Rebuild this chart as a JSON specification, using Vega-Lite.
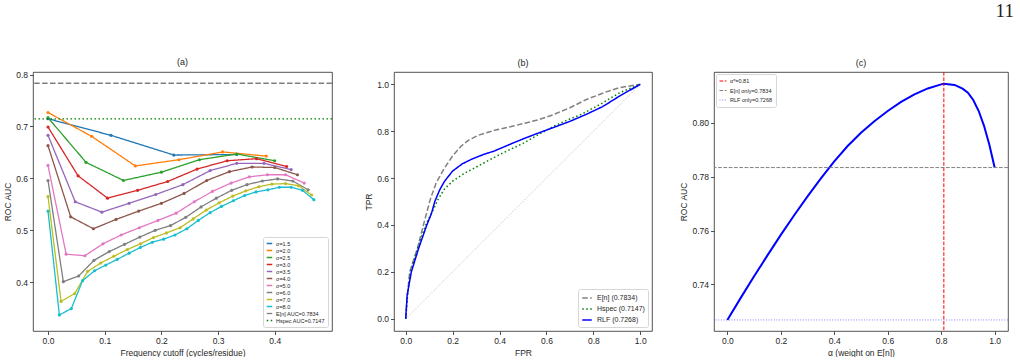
{
  "$schema": "https://vega.github.io/schema/vega-lite/v6.json",
  "background": "white",
  "padding": {"left": 3, "top": 2, "right": 0, "bottom": 0},
  "title": {"text": "11", "anchor": "end", "font": "Liberation Serif", "fontSize": 19, "fontWeight": "normal", "color": "#222", "offset": 36, "dx": 5, "frame": "bounds"},
  "bounds": "flush",
  "spacing": 62,
  "config": {
    "font": "Liberation Sans",
    "view": {"stroke": "#262626", "strokeWidth": 0.8},
    "axis": {"domain": false, "grid": false, "tickColor": "#262626", "tickSize": 3.5, "tickWidth": 0.8, "labelFontSize": 8.5, "labelColor": "#262626", "titleFontSize": 8.5, "titleFontWeight": "normal", "titleColor": "#262626", "labelPadding": 2, "titlePadding": 3, "labelFlush": false},
    "title": {"fontSize": 9, "fontWeight": "normal", "offset": 4, "color": "#262626"},
    "legend": {"title": null, "symbolType": "stroke", "fillColor": "white", "strokeColor": "#d6d6d6", "cornerRadius": 2, "labelColor": "#262626"}
  },
  "resolve": {"scale": {"color": "independent", "strokeDash": "independent", "x": "independent", "y": "independent"}, "legend": {"color": "independent", "strokeDash": "independent"}},
  "hconcat": [
    {
      "width": 299, "height": 259,
      "title": "(a)",
      "layer": [
        {
          "data": {"values": [
            {"s":"σ=1.5","f":0,"auc":0.715},{"s":"σ=1.5","f":0.111,"auc":0.683},{"s":"σ=1.5","f":0.222,"auc":0.645},{"s":"σ=1.5","f":0.333,"auc":0.646},
            {"s":"σ=2.0","f":0,"auc":0.727},{"s":"σ=2.0","f":0.077,"auc":0.681},{"s":"σ=2.0","f":0.154,"auc":0.624},{"s":"σ=2.0","f":0.231,"auc":0.636},{"s":"σ=2.0","f":0.308,"auc":0.651},{"s":"σ=2.0","f":0.385,"auc":0.643},
            {"s":"σ=2.5","f":0,"auc":0.717},{"s":"σ=2.5","f":0.067,"auc":0.631},{"s":"σ=2.5","f":0.133,"auc":0.596},{"s":"σ=2.5","f":0.2,"auc":0.612},{"s":"σ=2.5","f":0.267,"auc":0.636},{"s":"σ=2.5","f":0.333,"auc":0.647},{"s":"σ=2.5","f":0.4,"auc":0.634},
            {"s":"σ=3.0","f":0,"auc":0.699},{"s":"σ=3.0","f":0.053,"auc":0.605},{"s":"σ=3.0","f":0.105,"auc":0.562},{"s":"σ=3.0","f":0.158,"auc":0.577},{"s":"σ=3.0","f":0.211,"auc":0.594},{"s":"σ=3.0","f":0.263,"auc":0.618},{"s":"σ=3.0","f":0.316,"auc":0.634},{"s":"σ=3.0","f":0.368,"auc":0.638},{"s":"σ=3.0","f":0.421,"auc":0.623},
            {"s":"σ=3.5","f":0,"auc":0.683},{"s":"σ=3.5","f":0.048,"auc":0.555},{"s":"σ=3.5","f":0.095,"auc":0.535},{"s":"σ=3.5","f":0.143,"auc":0.552},{"s":"σ=3.5","f":0.19,"auc":0.569},{"s":"σ=3.5","f":0.238,"auc":0.588},{"s":"σ=3.5","f":0.286,"auc":0.615},{"s":"σ=3.5","f":0.333,"auc":0.629},{"s":"σ=3.5","f":0.381,"auc":0.629},{"s":"σ=3.5","f":0.429,"auc":0.617},
            {"s":"σ=4.0","f":0,"auc":0.663},{"s":"σ=4.0","f":0.04,"auc":0.526},{"s":"σ=4.0","f":0.08,"auc":0.503},{"s":"σ=4.0","f":0.12,"auc":0.521},{"s":"σ=4.0","f":0.16,"auc":0.537},{"s":"σ=4.0","f":0.2,"auc":0.552},{"s":"σ=4.0","f":0.24,"auc":0.571},{"s":"σ=4.0","f":0.28,"auc":0.596},{"s":"σ=4.0","f":0.32,"auc":0.613},{"s":"σ=4.0","f":0.36,"auc":0.622},{"s":"σ=4.0","f":0.4,"auc":0.621},{"s":"σ=4.0","f":0.44,"auc":0.607},
            {"s":"σ=5.0","f":0,"auc":0.625},{"s":"σ=5.0","f":0.032,"auc":0.454},{"s":"σ=5.0","f":0.065,"auc":0.451},{"s":"σ=5.0","f":0.097,"auc":0.474},{"s":"σ=5.0","f":0.129,"auc":0.491},{"s":"σ=5.0","f":0.161,"auc":0.505},{"s":"σ=5.0","f":0.194,"auc":0.519},{"s":"σ=5.0","f":0.226,"auc":0.533},{"s":"σ=5.0","f":0.258,"auc":0.555},{"s":"σ=5.0","f":0.29,"auc":0.575},{"s":"σ=5.0","f":0.323,"auc":0.591},{"s":"σ=5.0","f":0.355,"auc":0.603},{"s":"σ=5.0","f":0.387,"auc":0.607},{"s":"σ=5.0","f":0.419,"auc":0.607},{"s":"σ=5.0","f":0.452,"auc":0.591},
            {"s":"σ=6.0","f":0,"auc":0.596},{"s":"σ=6.0","f":0.027,"auc":0.401},{"s":"σ=6.0","f":0.054,"auc":0.412},{"s":"σ=6.0","f":0.081,"auc":0.442},{"s":"σ=6.0","f":0.108,"auc":0.459},{"s":"σ=6.0","f":0.135,"auc":0.473},{"s":"σ=6.0","f":0.162,"auc":0.487},{"s":"σ=6.0","f":0.189,"auc":0.5},{"s":"σ=6.0","f":0.216,"auc":0.509},{"s":"σ=6.0","f":0.243,"auc":0.525},{"s":"σ=6.0","f":0.27,"auc":0.545},{"s":"σ=6.0","f":0.297,"auc":0.562},{"s":"σ=6.0","f":0.324,"auc":0.577},{"s":"σ=6.0","f":0.351,"auc":0.588},{"s":"σ=6.0","f":0.378,"auc":0.595},{"s":"σ=6.0","f":0.405,"auc":0.599},{"s":"σ=6.0","f":0.432,"auc":0.595},{"s":"σ=6.0","f":0.459,"auc":0.578},
            {"s":"σ=7.0","f":0,"auc":0.565},{"s":"σ=7.0","f":0.023,"auc":0.363},{"s":"σ=7.0","f":0.047,"auc":0.378},{"s":"σ=7.0","f":0.07,"auc":0.421},{"s":"σ=7.0","f":0.093,"auc":0.437},{"s":"σ=7.0","f":0.116,"auc":0.45},{"s":"σ=7.0","f":0.14,"auc":0.463},{"s":"σ=7.0","f":0.163,"auc":0.474},{"s":"σ=7.0","f":0.186,"auc":0.486},{"s":"σ=7.0","f":0.209,"auc":0.495},{"s":"σ=7.0","f":0.233,"auc":0.505},{"s":"σ=7.0","f":0.256,"auc":0.522},{"s":"σ=7.0","f":0.279,"auc":0.539},{"s":"σ=7.0","f":0.302,"auc":0.553},{"s":"σ=7.0","f":0.326,"auc":0.566},{"s":"σ=7.0","f":0.349,"auc":0.576},{"s":"σ=7.0","f":0.372,"auc":0.584},{"s":"σ=7.0","f":0.395,"auc":0.589},{"s":"σ=7.0","f":0.419,"auc":0.59},{"s":"σ=7.0","f":0.442,"auc":0.586},{"s":"σ=7.0","f":0.465,"auc":0.568},
            {"s":"σ=8.0","f":0,"auc":0.537},{"s":"σ=8.0","f":0.02,"auc":0.337},{"s":"σ=8.0","f":0.041,"auc":0.349},{"s":"σ=8.0","f":0.061,"auc":0.403},{"s":"σ=8.0","f":0.082,"auc":0.422},{"s":"σ=8.0","f":0.102,"auc":0.433},{"s":"σ=8.0","f":0.122,"auc":0.444},{"s":"σ=8.0","f":0.143,"auc":0.456},{"s":"σ=8.0","f":0.163,"auc":0.467},{"s":"σ=8.0","f":0.184,"auc":0.477},{"s":"σ=8.0","f":0.204,"auc":0.483},{"s":"σ=8.0","f":0.224,"auc":0.491},{"s":"σ=8.0","f":0.245,"auc":0.503},{"s":"σ=8.0","f":0.265,"auc":0.519},{"s":"σ=8.0","f":0.286,"auc":0.534},{"s":"σ=8.0","f":0.306,"auc":0.546},{"s":"σ=8.0","f":0.327,"auc":0.557},{"s":"σ=8.0","f":0.347,"auc":0.567},{"s":"σ=8.0","f":0.367,"auc":0.574},{"s":"σ=8.0","f":0.388,"auc":0.578},{"s":"σ=8.0","f":0.408,"auc":0.583},{"s":"σ=8.0","f":0.429,"auc":0.583},{"s":"σ=8.0","f":0.449,"auc":0.577},{"s":"σ=8.0","f":0.469,"auc":0.559}
          ]},
          "layer": [
            {
              "mark": {"type": "line", "strokeWidth": 1.3},
              "encoding": {
                "x": {"field": "f", "type": "quantitative", "title": "Frequency cutoff (cycles/residue)", "scale": {"domain": [-0.0265, 0.501], "nice": false, "zero": false}, "axis": {"values": [0, 0.1, 0.2, 0.3, 0.4], "format": ".1f"}},
                "y": {"field": "auc", "type": "quantitative", "title": "ROC AUC", "scale": {"domain": [0.306, 0.805], "nice": false, "zero": false}, "axis": {"values": [0.4, 0.5, 0.6, 0.7, 0.8], "format": ".1f"}},
                "color": {"field": "s", "type": "nominal", "scale": {"domain": ["σ=1.5","σ=2.0","σ=2.5","σ=3.0","σ=3.5","σ=4.0","σ=5.0","σ=6.0","σ=7.0","σ=8.0","E[n] AUC=0.7834","Hspec AUC=0.7147"], "range": ["#1f77b4","#ff7f0e","#2ca02c","#d62728","#9467bd","#8c564b","#e377c2","#7f7f7f","#bcbd22","#17becf","#808080","#008000"]}, "legend": {"orient": "bottom-right", "offset": 4, "labelFontSize": 5.5, "symbolSize": 30, "symbolStrokeWidth": 1.3, "rowPadding": 0, "padding": 3, "labelOffset": 3}},
                "strokeDash": {"field": "s", "type": "nominal", "scale": {"domain": ["σ=1.5","σ=2.0","σ=2.5","σ=3.0","σ=3.5","σ=4.0","σ=5.0","σ=6.0","σ=7.0","σ=8.0","E[n] AUC=0.7834","Hspec AUC=0.7147"], "range": [[1,0],[1,0],[1,0],[1,0],[1,0],[1,0],[1,0],[1,0],[1,0],[1,0],[5.5,2.4],[1.5,2.5]]}, "legend": {"orient": "bottom-right", "offset": 4, "labelFontSize": 5.5, "symbolSize": 30, "symbolStrokeWidth": 1.3, "rowPadding": 0, "padding": 3, "labelOffset": 3}}
              }
            },
            {
              "mark": {"type": "point", "filled": true, "size": 10, "opacity": 1},
              "encoding": {
                "x": {"field": "f", "type": "quantitative", "title": "Frequency cutoff (cycles/residue)"},
                "y": {"field": "auc", "type": "quantitative", "title": "ROC AUC"},
                "color": {"field": "s", "type": "nominal"}
              }
            }
          ]
        },
        {
          "data": {"values": [{"s": "E[n] AUC=0.7834", "v": 0.7834}, {"s": "Hspec AUC=0.7147", "v": 0.7147}]},
          "mark": {"type": "rule", "strokeWidth": 1.4},
          "encoding": {
            "y": {"field": "v", "type": "quantitative", "title": "ROC AUC"},
            "color": {"field": "s", "type": "nominal"},
            "strokeDash": {"field": "s", "type": "nominal"}
          }
        }
      ]
    },
    {
      "width": 258, "height": 259,
      "title": "(b)",
      "layer": [
        {
          "data": {"values": [{"fpr": 0, "tpr": 0}, {"fpr": 1, "tpr": 1}]},
          "mark": {"type": "line", "color": "#b8b8b8", "strokeWidth": 1, "strokeDash": [1, 1.8]},
          "encoding": {
            "x": {"field": "fpr", "type": "quantitative", "title": "FPR", "scale": {"domain": [-0.05, 1.05], "nice": false, "zero": false}, "axis": {"values": [0, 0.2, 0.4, 0.6, 0.8, 1.0], "format": ".1f"}},
            "y": {"field": "tpr", "type": "quantitative", "title": "TPR", "scale": {"domain": [-0.0525, 1.0525], "nice": false, "zero": false}, "axis": {"values": [0, 0.2, 0.4, 0.6, 0.8, 1.0], "format": ".1f"}}
          }
        },
        {
          "data": {"values": [
            {"c":"E[n] (0.7834)","fpr":0,"tpr":0},{"c":"E[n] (0.7834)","fpr":0.005,"tpr":0.08},{"c":"E[n] (0.7834)","fpr":0.017,"tpr":0.2},{"c":"E[n] (0.7834)","fpr":0.05,"tpr":0.3},{"c":"E[n] (0.7834)","fpr":0.078,"tpr":0.41},{"c":"E[n] (0.7834)","fpr":0.105,"tpr":0.51},{"c":"E[n] (0.7834)","fpr":0.13,"tpr":0.58},{"c":"E[n] (0.7834)","fpr":0.166,"tpr":0.644},{"c":"E[n] (0.7834)","fpr":0.2,"tpr":0.695},{"c":"E[n] (0.7834)","fpr":0.237,"tpr":0.737},{"c":"E[n] (0.7834)","fpr":0.27,"tpr":0.763},{"c":"E[n] (0.7834)","fpr":0.308,"tpr":0.782},{"c":"E[n] (0.7834)","fpr":0.379,"tpr":0.804},{"c":"E[n] (0.7834)","fpr":0.45,"tpr":0.82},{"c":"E[n] (0.7834)","fpr":0.5,"tpr":0.832},{"c":"E[n] (0.7834)","fpr":0.57,"tpr":0.85},{"c":"E[n] (0.7834)","fpr":0.628,"tpr":0.87},{"c":"E[n] (0.7834)","fpr":0.7,"tpr":0.9},{"c":"E[n] (0.7834)","fpr":0.77,"tpr":0.935},{"c":"E[n] (0.7834)","fpr":0.85,"tpr":0.966},{"c":"E[n] (0.7834)","fpr":0.912,"tpr":0.986},{"c":"E[n] (0.7834)","fpr":1,"tpr":1},
            {"c":"Hspec (0.7147)","fpr":0,"tpr":0},{"c":"Hspec (0.7147)","fpr":0.008,"tpr":0.1},{"c":"Hspec (0.7147)","fpr":0.02,"tpr":0.2},{"c":"Hspec (0.7147)","fpr":0.05,"tpr":0.3},{"c":"Hspec (0.7147)","fpr":0.085,"tpr":0.4},{"c":"Hspec (0.7147)","fpr":0.115,"tpr":0.46},{"c":"Hspec (0.7147)","fpr":0.138,"tpr":0.509},{"c":"Hspec (0.7147)","fpr":0.165,"tpr":0.553},{"c":"Hspec (0.7147)","fpr":0.2,"tpr":0.587},{"c":"Hspec (0.7147)","fpr":0.25,"tpr":0.62},{"c":"Hspec (0.7147)","fpr":0.308,"tpr":0.651},{"c":"Hspec (0.7147)","fpr":0.4,"tpr":0.7},{"c":"Hspec (0.7147)","fpr":0.5,"tpr":0.748},{"c":"Hspec (0.7147)","fpr":0.56,"tpr":0.782},{"c":"Hspec (0.7147)","fpr":0.628,"tpr":0.82},{"c":"Hspec (0.7147)","fpr":0.7,"tpr":0.852},{"c":"Hspec (0.7147)","fpr":0.749,"tpr":0.872},{"c":"Hspec (0.7147)","fpr":0.83,"tpr":0.915},{"c":"Hspec (0.7147)","fpr":0.912,"tpr":0.964},{"c":"Hspec (0.7147)","fpr":1,"tpr":1},
            {"c":"RLF (0.7268)","fpr":0,"tpr":0},{"c":"RLF (0.7268)","fpr":0.006,"tpr":0.1},{"c":"RLF (0.7268)","fpr":0.024,"tpr":0.2},{"c":"RLF (0.7268)","fpr":0.055,"tpr":0.3},{"c":"RLF (0.7268)","fpr":0.09,"tpr":0.4},{"c":"RLF (0.7268)","fpr":0.11,"tpr":0.45},{"c":"RLF (0.7268)","fpr":0.124,"tpr":0.5},{"c":"RLF (0.7268)","fpr":0.145,"tpr":0.55},{"c":"RLF (0.7268)","fpr":0.166,"tpr":0.587},{"c":"RLF (0.7268)","fpr":0.2,"tpr":0.63},{"c":"RLF (0.7268)","fpr":0.24,"tpr":0.66},{"c":"RLF (0.7268)","fpr":0.28,"tpr":0.68},{"c":"RLF (0.7268)","fpr":0.33,"tpr":0.7},{"c":"RLF (0.7268)","fpr":0.379,"tpr":0.716},{"c":"RLF (0.7268)","fpr":0.44,"tpr":0.742},{"c":"RLF (0.7268)","fpr":0.5,"tpr":0.767},{"c":"RLF (0.7268)","fpr":0.56,"tpr":0.79},{"c":"RLF (0.7268)","fpr":0.628,"tpr":0.815},{"c":"RLF (0.7268)","fpr":0.7,"tpr":0.842},{"c":"RLF (0.7268)","fpr":0.77,"tpr":0.872},{"c":"RLF (0.7268)","fpr":0.84,"tpr":0.905},{"c":"RLF (0.7268)","fpr":0.912,"tpr":0.95},{"c":"RLF (0.7268)","fpr":1,"tpr":1}
          ]},
          "mark": {"type": "line"},
          "encoding": {
            "x": {"field": "fpr", "type": "quantitative", "title": "FPR"},
            "y": {"field": "tpr", "type": "quantitative", "title": "TPR"},
            "color": {"field": "c", "type": "nominal", "scale": {"domain": ["E[n] (0.7834)", "Hspec (0.7147)", "RLF (0.7268)"], "range": ["#808080", "#008000", "#0000ff"]}, "legend": {"orient": "bottom-right", "offset": 4, "labelFontSize": 7, "symbolSize": 90, "symbolStrokeWidth": 1.6, "rowPadding": 1, "padding": 3, "labelOffset": 4}},
            "strokeDash": {"field": "c", "type": "nominal", "scale": {"domain": ["E[n] (0.7834)", "Hspec (0.7147)", "RLF (0.7268)"], "range": [[5.5, 2.4], [1.5, 2.5], [1, 0]]}, "legend": {"orient": "bottom-right", "offset": 4, "labelFontSize": 7, "symbolSize": 90, "symbolStrokeWidth": 1.6, "rowPadding": 1, "padding": 3, "labelOffset": 4}},
            "strokeWidth": {"field": "c", "type": "nominal", "scale": {"domain": ["E[n] (0.7834)", "Hspec (0.7147)", "RLF (0.7268)"], "range": [1.5, 1.5, 2.2]}, "legend": null}
          }
        }
      ]
    },
    {
      "width": 294, "height": 259,
      "title": "(c)",
      "layer": [
        {
          "data": {"values": [
            {"a":0,"auc":0.7268},{"a":0.05,"auc":0.735},{"a":0.1,"auc":0.743},{"a":0.15,"auc":0.7508},{"a":0.2,"auc":0.7584},{"a":0.25,"auc":0.7657},{"a":0.3,"auc":0.7727},{"a":0.35,"auc":0.7794},{"a":0.4,"auc":0.7857},{"a":0.45,"auc":0.7914},{"a":0.5,"auc":0.7963},{"a":0.55,"auc":0.8006},{"a":0.6,"auc":0.8044},{"a":0.65,"auc":0.8078},{"a":0.7,"auc":0.8106},{"a":0.75,"auc":0.8128},{"a":0.8,"auc":0.8143},{"a":0.81,"auc":0.8145},{"a":0.85,"auc":0.8141},{"a":0.88,"auc":0.8127},{"a":0.9,"auc":0.8112},{"a":0.92,"auc":0.8085},{"a":0.94,"auc":0.8045},{"a":0.96,"auc":0.799},{"a":0.98,"auc":0.792},{"a":1.0,"auc":0.7834}
          ]},
          "mark": {"type": "line", "color": "#0000ff", "strokeWidth": 2},
          "encoding": {
            "x": {"field": "a", "type": "quantitative", "title": "α (weight on E[n])", "scale": {"domain": [-0.05, 1.05], "nice": false, "zero": false}, "axis": {"values": [0, 0.2, 0.4, 0.6, 0.8, 1.0], "format": ".1f"}},
            "y": {"field": "auc", "type": "quantitative", "title": "ROC AUC", "scale": {"domain": [0.7227, 0.8189], "nice": false, "zero": false}, "axis": {"values": [0.74, 0.76, 0.78, 0.8], "format": ".2f"}}
          }
        },
        {
          "data": {"values": [{"k": "α*=0.81", "a": 0.81}]},
          "mark": {"type": "rule", "strokeWidth": 1},
          "encoding": {
            "x": {"field": "a", "type": "quantitative", "title": "α (weight on E[n])"},
            "color": {"field": "k", "type": "nominal", "scale": {"domain": ["α*=0.81", "E[n] only=0.7834", "RLF only=0.7268"], "range": ["#ff0000", "#808080", "#8080ff"]}, "legend": {"orient": "top-left", "offset": 2, "labelFontSize": 5.5, "symbolSize": 49, "symbolStrokeWidth": 1, "rowPadding": 1.5, "padding": 3, "labelOffset": 3}},
            "strokeDash": {"field": "k", "type": "nominal", "scale": {"domain": ["α*=0.81", "E[n] only=0.7834", "RLF only=0.7268"], "range": [[3.7, 1.6], [3.7, 1.6], [1, 1.65]]}, "legend": {"orient": "top-left", "offset": 2, "labelFontSize": 5.5, "symbolSize": 49, "symbolStrokeWidth": 1, "rowPadding": 1.5, "padding": 3, "labelOffset": 3}}
          }
        },
        {
          "data": {"values": [{"k": "E[n] only=0.7834", "v": 0.7834}, {"k": "RLF only=0.7268", "v": 0.7268}]},
          "mark": {"type": "rule", "strokeWidth": 1},
          "encoding": {
            "y": {"field": "v", "type": "quantitative", "title": "ROC AUC"},
            "color": {"field": "k", "type": "nominal"},
            "strokeDash": {"field": "k", "type": "nominal"}
          }
        }
      ]
    }
  ]
}
